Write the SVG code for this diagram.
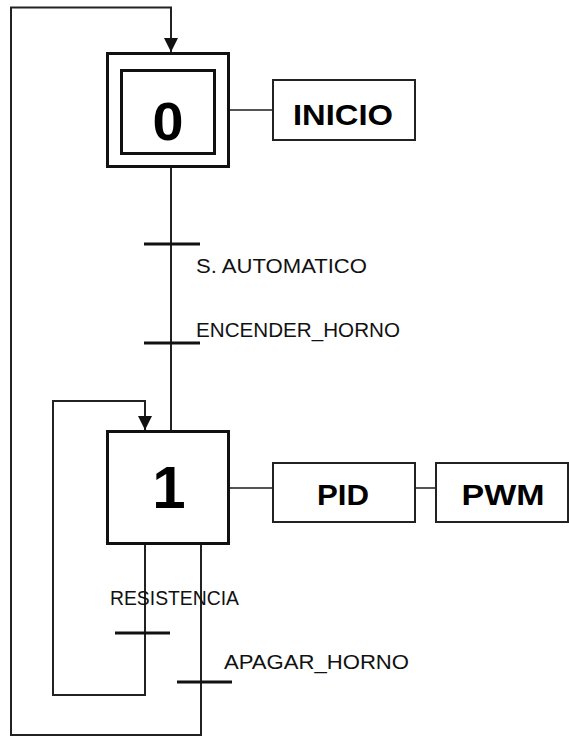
<svg xmlns="http://www.w3.org/2000/svg" width="569" height="737" viewBox="0 0 569 737">
<style>
.ln{fill:none;stroke:#222;stroke-width:2}
.lk{fill:none;stroke:#555;stroke-width:2}
.tr{stroke:#111;stroke-width:3}
.step{fill:#fff;stroke:#111;stroke-width:3}
.act{fill:#fff;stroke:#222;stroke-width:2}
.num{font-family:"Liberation Sans",Arial,sans-serif;font-weight:bold;fill:#000;text-anchor:middle}
.big{font-family:"Liberation Sans",Arial,sans-serif;font-weight:bold;font-size:30px;fill:#000;text-anchor:middle}
.lbl{font-family:"Liberation Sans",Arial,sans-serif;font-size:20.5px;fill:#111}
</style>
<defs>
<marker id="arr" viewBox="0 0 10 10" refX="10" refY="5" markerWidth="14" markerHeight="14" markerUnits="userSpaceOnUse" orient="auto">
<path d="M0,0 L10,5 L0,10 Z" fill="#111"/>
</marker>
</defs>
<g id="connectors">
<path class="ln" d="M201,544 V735 H11 V7.5 H171 V52" marker-end="url(#arr)"/>
<path class="ln" d="M145,544 V695 H53 V401 H145 V430" marker-end="url(#arr)"/>
<path class="ln" d="M171,167 V431"/>
<path class="lk" d="M229,110 H273"/>
<path class="lk" d="M229,488 H273"/>
<path class="lk" d="M415,488 H436"/>
<line class="tr" x1="144" y1="244" x2="200" y2="244"/>
<line class="tr" x1="144" y1="343" x2="200" y2="343"/>
<line class="tr" x1="115" y1="633" x2="170" y2="633"/>
<line class="tr" x1="177" y1="682" x2="232" y2="682"/>
<text class="lbl" x="196" y="273" textLength="171" lengthAdjust="spacingAndGlyphs">S. AUTOMATICO</text>
<text class="lbl" x="196" y="337" textLength="204" lengthAdjust="spacingAndGlyphs">ENCENDER_HORNO</text>
<text class="lbl" x="110" y="605" textLength="129" lengthAdjust="spacingAndGlyphs">RESISTENCIA</text>
<text class="lbl" x="224" y="669" textLength="185" lengthAdjust="spacingAndGlyphs">APAGAR_HORNO</text>
</g>
<g id="step0">
<rect class="step" x="107.5" y="53.5" width="121" height="113"/>
<rect class="step" x="121.5" y="70.5" width="93" height="83"/>
<text class="num" x="168" y="140" font-size="53" textLength="31" lengthAdjust="spacingAndGlyphs">0</text>
</g>
<g id="step1">
<rect class="step" x="107.5" y="431.5" width="121" height="112"/>
<text class="num" x="169" y="508" font-size="60">1</text>
</g>
<g id="inicio">
<rect class="act" x="273" y="80" width="142" height="60"/>
<text class="big" x="343" y="125" textLength="100" lengthAdjust="spacingAndGlyphs">INICIO</text>
</g>
<g id="pid">
<rect class="act" x="273" y="463" width="142" height="59"/>
<text class="big" x="343" y="505" textLength="52" lengthAdjust="spacingAndGlyphs">PID</text>
</g>
<g id="pwm">
<rect class="act" x="436" y="463" width="132" height="59"/>
<text class="big" x="503" y="505" textLength="83" lengthAdjust="spacingAndGlyphs">PWM</text>
</g>
</svg>
